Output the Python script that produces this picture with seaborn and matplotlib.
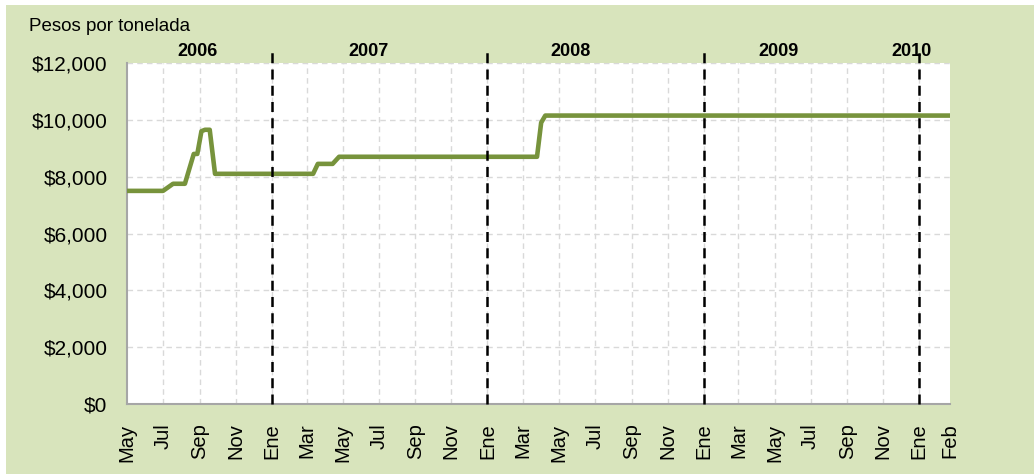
import matplotlib

matplotlib.use("Agg")
import matplotlib.pyplot as plt
import matplotlib.transforms as mtransforms
from matplotlib.patches import Rectangle
import pandas as pd
import seaborn as sns

# ── data ─────────────────────────────────────────────────────────────────────
dates = [
    "2006-05-01", "2006-07-01", "2006-07-18", "2006-08-07", "2006-08-22",
    "2006-08-28", "2006-09-04", "2006-09-10", "2006-09-18", "2006-09-27",
    "2007-03-12", "2007-03-20", "2007-04-14", "2007-04-25", "2008-03-25",
    "2008-04-01", "2008-04-08", "2010-02-22",
]
prices = [
    7500, 7500, 7750, 7750, 8800,
    8800, 9600, 9650, 9650, 8100,
    8100, 8450, 8450, 8700, 8700,
    9900, 10150, 10150,
]

year_labels = ["2006", "2007", "2008", "2009", "2010"]
year_label_dates = ["2006-08-28", "2007-06-14", "2008-05-20", "2009-05-08", "2009-12-18"]
year_breaks = ["2007-01-01", "2008-01-01", "2009-01-01", "2010-01-01"]

month_es = {1: "Ene", 2: "Feb", 3: "Mar", 4: "Abr", 5: "May", 6: "Jun",
            7: "Jul", 8: "Ago", 9: "Sep", 10: "Oct", 11: "Nov", 12: "Dic"}
x_start, x_end = "2006-05-01", "2010-02-22"
y_ticks = [0, 2000, 4000, 6000, 8000, 10000, 12000]

LINE = "#77933C"
BG = "#D8E4BC"
GRID = "#D9D9D9"
AXIS = "#A6A6A6"

df = pd.DataFrame({"fecha": pd.to_datetime(dates), "precio": prices})

sns.set_style("white")
plt.rcParams["font.family"] = ["Liberation Sans", "DejaVu Sans"]
plt.rcParams["text.color"] = "black"
plt.rcParams["xtick.labelcolor"] = "black"
plt.rcParams["ytick.labelcolor"] = "black"

fig = plt.figure(figsize=(10.34, 4.74), dpi=100, facecolor="white")
fig.patches.append(Rectangle((6 / 1034, 0), 1, 1 - 5 / 474, transform=fig.transFigure,
                             facecolor=BG, edgecolor="none", zorder=-10))
ax = fig.add_axes([127 / 1034, 1 - 404 / 474, (950 - 127) / 1034, (404 - 63) / 474])
ax.set_facecolor("white")

sns.lineplot(data=df, x="fecha", y="precio", color=LINE, linewidth=3.3, ax=ax,
             zorder=5)

# axes limits & ticks
ax.set_xlim(pd.Timestamp(x_start), pd.Timestamp(x_end))
ax.set_ylim(0, 12000)
tick_dates = list(pd.date_range(x_start, "2010-01-01", freq="2MS"))
tick_labels = [month_es[d.month] for d in tick_dates]
ax.set_xticks(tick_dates + [pd.Timestamp(x_end)])
ax.set_xticklabels(tick_labels + ["Feb"], rotation=90, fontsize=14.5, color="black")
ax.set_yticks(y_ticks)
ax.set_yticklabels([f"${v:,.0f}" for v in y_ticks], fontsize=15, color="black")
ax.tick_params(axis="x", length=4, width=1.2, color=AXIS, pad=10)
ax.tick_params(axis="y", length=5, width=1.2, color=AXIS, pad=9)
ax.xaxis.get_major_ticks()[-1].tick1line.set_visible(False)
ax.set_xlabel("")
ax.set_ylabel("")

# grid
for d in tick_dates[1:]:
    ax.axvline(d, color=GRID, lw=1, ls=(0, (4, 3)), zorder=1)
for v in y_ticks[1:]:
    ax.axhline(v, color=GRID, lw=1, ls=(0, (4, 3)), zorder=1)

for side in ["top", "right"]:
    ax.spines[side].set_visible(False)
for side in ["left", "bottom"]:
    ax.spines[side].set_color(AXIS)
    ax.spines[side].set_linewidth(1.5)

# year separators and labels
trans = mtransforms.blended_transform_factory(ax.transData, ax.transAxes)
for d in year_breaks:
    ax.plot([pd.Timestamp(d)] * 2, [0, 1.035], transform=trans, color="black",
            lw=1.8, ls=(0, (4, 2.5)), clip_on=False, zorder=6)
for lab, d in zip(year_labels, year_label_dates):
    ax.text(pd.Timestamp(d), 1.009, lab, transform=trans, ha="center", va="bottom",
            fontsize=13, fontweight="bold", color="black")

fig.text(29 / 1034, 1 - 31 / 474, "Pesos por tonelada", fontsize=13.5, ha="left",
         va="baseline", color="black")

fig.savefig("out.png", dpi=100, facecolor=fig.get_facecolor())
